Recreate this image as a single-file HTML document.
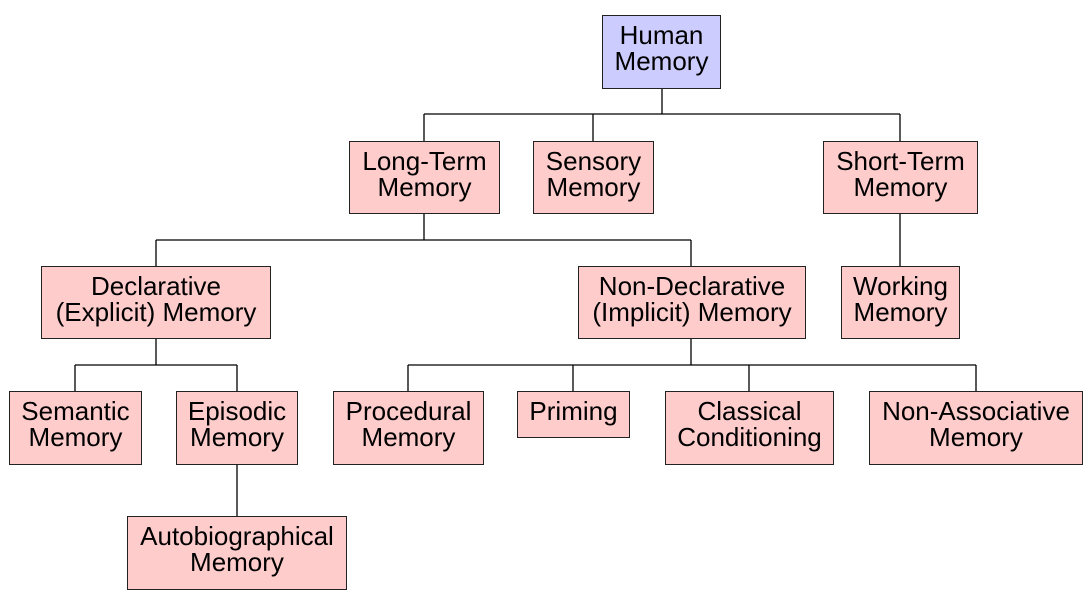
<!DOCTYPE html>
<html><head><style>
body{margin:0;width:1086px;height:591px;background:#fff;position:relative;overflow:hidden;font-family:"Liberation Sans",Arial,sans-serif;}
.b{position:absolute;box-sizing:border-box;border:1.3px solid #222;background:#ffcccc;display:flex;align-items:center;justify-content:center;text-align:center;font-size:26px;line-height:26px;color:#000;padding-bottom:8px;white-space:nowrap;}
.h{background:#ccccff;}
svg{position:absolute;left:0;top:0;}
</style></head><body>
<svg width="1086" height="591"><g stroke="#000" stroke-width="1.3" fill="none">
<path d="M662 88V114M424 114H900M424 114V141M593 114V141M900 114V141"/>
<path d="M424 213V240M156 240H691M156 240V266M691 240V266M900 213V266"/>
<path d="M156 339V365M75 365H237M75 365V391M237 365V391"/>
<path d="M691 339V365M408 365H976M408 365V391M573 365V391M749 365V391M976 365V391"/>
<path d="M237 464V516"/>
</g></svg>
<div class="b h" style="left:602px;top:15px;width:119px;height:74px">Human<br>Memory</div>
<div class="b" style="left:349px;top:141px;width:151px;height:73px">Long-Term<br>Memory</div>
<div class="b" style="left:533px;top:141px;width:121px;height:73px">Sensory<br>Memory</div>
<div class="b" style="left:823px;top:141px;width:155px;height:73px">Short-Term<br>Memory</div>
<div class="b" style="left:41px;top:266px;width:230px;height:73px">Declarative<br>(Explicit) Memory</div>
<div class="b" style="left:578px;top:266px;width:228px;height:73px">Non-Declarative<br>(Implicit) Memory</div>
<div class="b" style="left:841px;top:266px;width:119px;height:73px">Working<br>Memory</div>
<div class="b" style="left:9px;top:391px;width:133px;height:74px">Semantic<br>Memory</div>
<div class="b" style="left:176px;top:391px;width:122px;height:74px">Episodic<br>Memory</div>
<div class="b" style="left:333px;top:391px;width:151px;height:74px">Procedural<br>Memory</div>
<div class="b" style="left:517px;top:391px;width:113px;height:47px">Priming</div>
<div class="b" style="left:665px;top:391px;width:169px;height:74px">Classical<br>Conditioning</div>
<div class="b" style="left:869px;top:391px;width:214px;height:74px">Non-Associative<br>Memory</div>
<div class="b" style="left:127px;top:516px;width:220px;height:74px">Autobiographical<br>Memory</div>
</body></html>
